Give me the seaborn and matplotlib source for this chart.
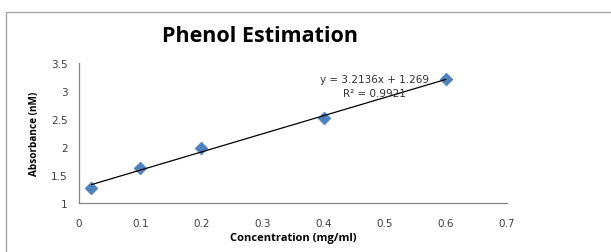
import matplotlib
matplotlib.use('Agg')
import matplotlib.pyplot as plt
import numpy as np
import pandas as pd
import seaborn as sns
from matplotlib.patches import Rectangle

concentration = [0.02, 0.1, 0.2, 0.4, 0.6]
absorbance = [1.26, 1.62, 1.99, 2.51, 3.21]
x_ticks = [0, 0.1, 0.2, 0.3, 0.4, 0.5, 0.6, 0.7]
y_ticks = [1, 1.5, 2, 2.5, 3, 3.5]
fit_label = ['y = 3.2136x + 1.269', 'R² = 0.9921']

df = pd.DataFrame({'conc': concentration, 'abs': absorbance})

sns.set_style('white')
plt.rcParams['font.family'] = ['Open Sans', 'DejaVu Sans']

fig = plt.figure(figsize=(6.11, 2.53), dpi=100)
ax = fig.add_axes([79 / 611, 1 - 204 / 253, 428 / 611, 140 / 253])

# chart frame like the spreadsheet export (only top and left edges show)
fig.patches.append(Rectangle((6 / 611, -0.2), 1.2, 1.2 - 13 / 253,
                             transform=fig.transFigure, fill=False,
                             edgecolor='#a6a6a6', linewidth=1.0))

slope, intercept = np.polyfit(concentration, absorbance, 1)
xs = np.array([min(concentration), max(concentration)])
ax.plot(xs, slope * xs + intercept, color='black', linewidth=0.9, zorder=3)

sns.scatterplot(data=df, x='conc', y='abs', marker='D', s=42,
                color='#4f81bd', edgecolor='#4f81bd', ax=ax, zorder=2)

ax.set_xlim(0, 0.7)
ax.set_ylim(1, 3.5)
ax.set_xticks(x_ticks)
ax.set_xticklabels([f'{t:g}' for t in x_ticks], family='DejaVu Sans')
ax.set_yticks(y_ticks)
ax.set_yticklabels([f'{t:g}' for t in y_ticks], family='DejaVu Sans')
ax.tick_params(length=0, labelsize=7.5, colors='#404040')
ax.tick_params(axis='x', pad=11)
ax.tick_params(axis='y', pad=8)

for side in ['top', 'right']:
    ax.spines[side].set_visible(False)
for side in ['left', 'bottom']:
    ax.spines[side].set_color('#868686')
    ax.spines[side].set_linewidth(0.9)

ax.set_xlabel('Concentration (mg/ml)', fontsize=8, fontweight='bold',
              labelpad=3, color='black')
ax.set_ylabel('Absorbance (nM)', fontsize=7.2, fontweight='bold',
              labelpad=8, color='black')

ax.text(0.484, 3.21, fit_label[0], fontsize=7.5, ha='center', va='center',
        color='#333333', family='DejaVu Sans')
ax.text(0.484, 2.96, fit_label[1], fontsize=7.5, ha='center', va='center',
        color='#333333', family='DejaVu Sans')

fig.text(260 / 611, 1 - 36 / 253, 'Phenol Estimation', fontsize=15.5,
         fontweight='bold', ha='center', va='center', color='black')

fig.savefig('out.png', dpi=100)
